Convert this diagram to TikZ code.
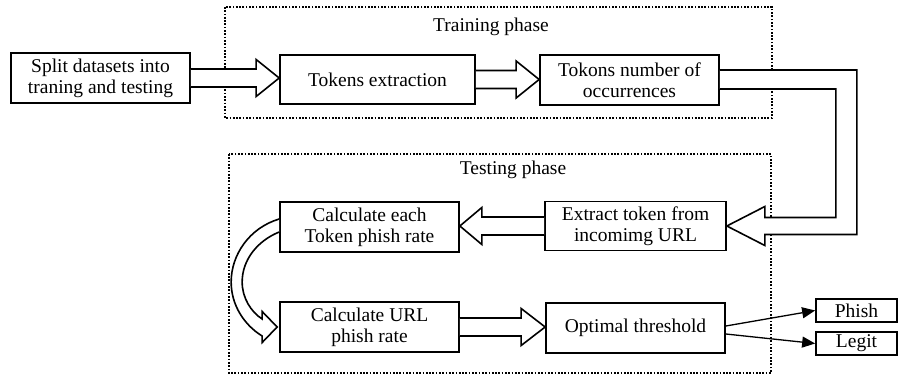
\documentclass[tikz,border=0pt]{standalone}
\usepackage{fontspec}
\setmainfont{Liberation Serif}
\usetikzlibrary{calc,arrows.meta}

\begin{document}
\begin{tikzpicture}[x=1pt,y=-1pt,
  box/.style={draw,line width=1.7pt,align=center,inner sep=0pt,
    font=\fontsize{19.5}{21}\selectfont},
  phase/.style={draw,line width=1.6pt,dash pattern=on 1.7pt off 1.6pt},
  hollow/.style={draw,line width=1.6pt,fill=white,line join=miter},
  label/.style={font=\fontsize{19.5}{21}\selectfont,inner sep=0pt},
  thin arrow/.style={line width=1.3pt,-{Triangle[length=13pt,width=11pt]}}]

\useasboundingbox (0,0) rectangle (899,377);

% dotted phase frames
\draw[phase] (225,7) rectangle (772,118);
\draw[phase] (229,154) rectangle (771,373);
\node[label] (trainlbl) at (491,27) {Training phase};
\node[label] (testlbl) at (513,170) {Testing phase};

% process boxes
\node[box,minimum width=179pt,minimum height=50pt] (split) at (100.5,78)
  {Split datasets into\\traning and testing};
\node[box,minimum width=195pt,minimum height=49pt] (tokens) at (377.5,79.5)
  {Tokens extraction};
\node[box,minimum width=179pt,minimum height=50pt] (count) at (629.5,80)
  {Tokons number of\\occurrences};
\node[box,minimum width=181pt,minimum height=49pt] (extract) at (635.5,226)
  {Extract token from\\incomimg URL};
\node[box,minimum width=179pt,minimum height=50pt] (calceach) at (369.5,227)
  {Calculate each\\Token phish rate};
\node[box,minimum width=179pt,minimum height=50pt] (calcurl) at (369.5,327)
  {Calculate URL\\phish rate};
\node[box,minimum width=179pt,minimum height=50pt] (optimal) at (635.5,328)
  {Optimal threshold};
\node[box,minimum width=81pt,minimum height=23pt] (phish) at (856.5,310.5) {Phish};
\node[box,minimum width=81pt,minimum height=23pt] (legit) at (856.5,343.5) {Legit};

% hollow block arrows: \fatright{from}{to}{head length}
\newcommand\fatright[3]{%
  \draw[hollow] let \p1=(#1.east), \p2=(#2.west) in
    (\x1,\y1+9pt) -- (\x2-#3,\y1+9pt) -- (\x2-#3,\y1+18.5pt) -- (\x2,\y1)
    -- (\x2-#3,\y1-18.5pt) -- (\x2-#3,\y1-9pt) -- (\x1,\y1-9pt);}
\newcommand\fatleft[3]{%
  \draw[hollow] let \p1=(#1.west), \p2=(#2.east) in
    (\x1,\y1+9pt) -- (\x2+#3,\y1+9pt) -- (\x2+#3,\y1+18.5pt) -- (\x2,\y1)
    -- (\x2+#3,\y1-18.5pt) -- (\x2+#3,\y1-9pt) -- (\x1,\y1-9pt);}

\fatright{split}{tokens}{23pt}
\fatright{tokens}{count}{23pt}
\fatleft{extract}{calceach}{22pt}
\fatright{calcurl}{optimal}{24pt}

% elbow arrow from the training phase down into the testing phase
\draw[hollow] let \p1=(count.east), \p2=(extract.east) in
  (\x1,\y1+10pt) -- (\x1+137pt,\y1+10pt) -- (\x1+137pt,\y2-8.5pt)
  -- (\x2+38pt,\y2-8.5pt) -- (\x2+38pt,\y2-19.5pt) -- (\x2,\y2)
  -- (\x2+38pt,\y2+19.5pt) -- (\x2+38pt,\y2+8.5pt) -- (\x1+116pt,\y2+8.5pt)
  -- (\x1+116pt,\y1-9pt) -- (\x1,\y1-9pt);

% curved hollow arrow between the two phish-rate steps
\draw[hollow]
  ($(calceach.west)+(0,-8)$)
    .. controls ($(calceach.west)+(-30,1)$) and ($(calceach.west)+(-48,28)$)
    .. ($(calceach.west)+(-48,55)$)
    .. controls ($(calcurl.west)+(-48,-22)$) and ($(calcurl.west)+(-35,-2)$)
    .. ($(calcurl.west)+(-17,9)$)
  -- ($(calcurl.west)+(-17,15.5)$) -- ($(calcurl.west)+(-2,0)$)
  -- ($(calcurl.west)+(-17,-15.5)$) -- ($(calcurl.west)+(-17,-8)$)
    .. controls ($(calcurl.west)+(-28,-15)$) and ($(calcurl.west)+(-37,-29)$)
    .. ($(calceach.west)+(-37,55)$)
    .. controls ($(calceach.west)+(-37,33)$) and ($(calceach.west)+(-22,14)$)
    .. ($(calceach.west)+(0,5)$);

% decision outputs
\draw[thin arrow] ($(optimal.east)+(0,-2)$) -- (phish.west);
\draw[thin arrow] ($(optimal.east)+(0,6)$) -- (legit.west);

\end{tikzpicture}
\end{document}
